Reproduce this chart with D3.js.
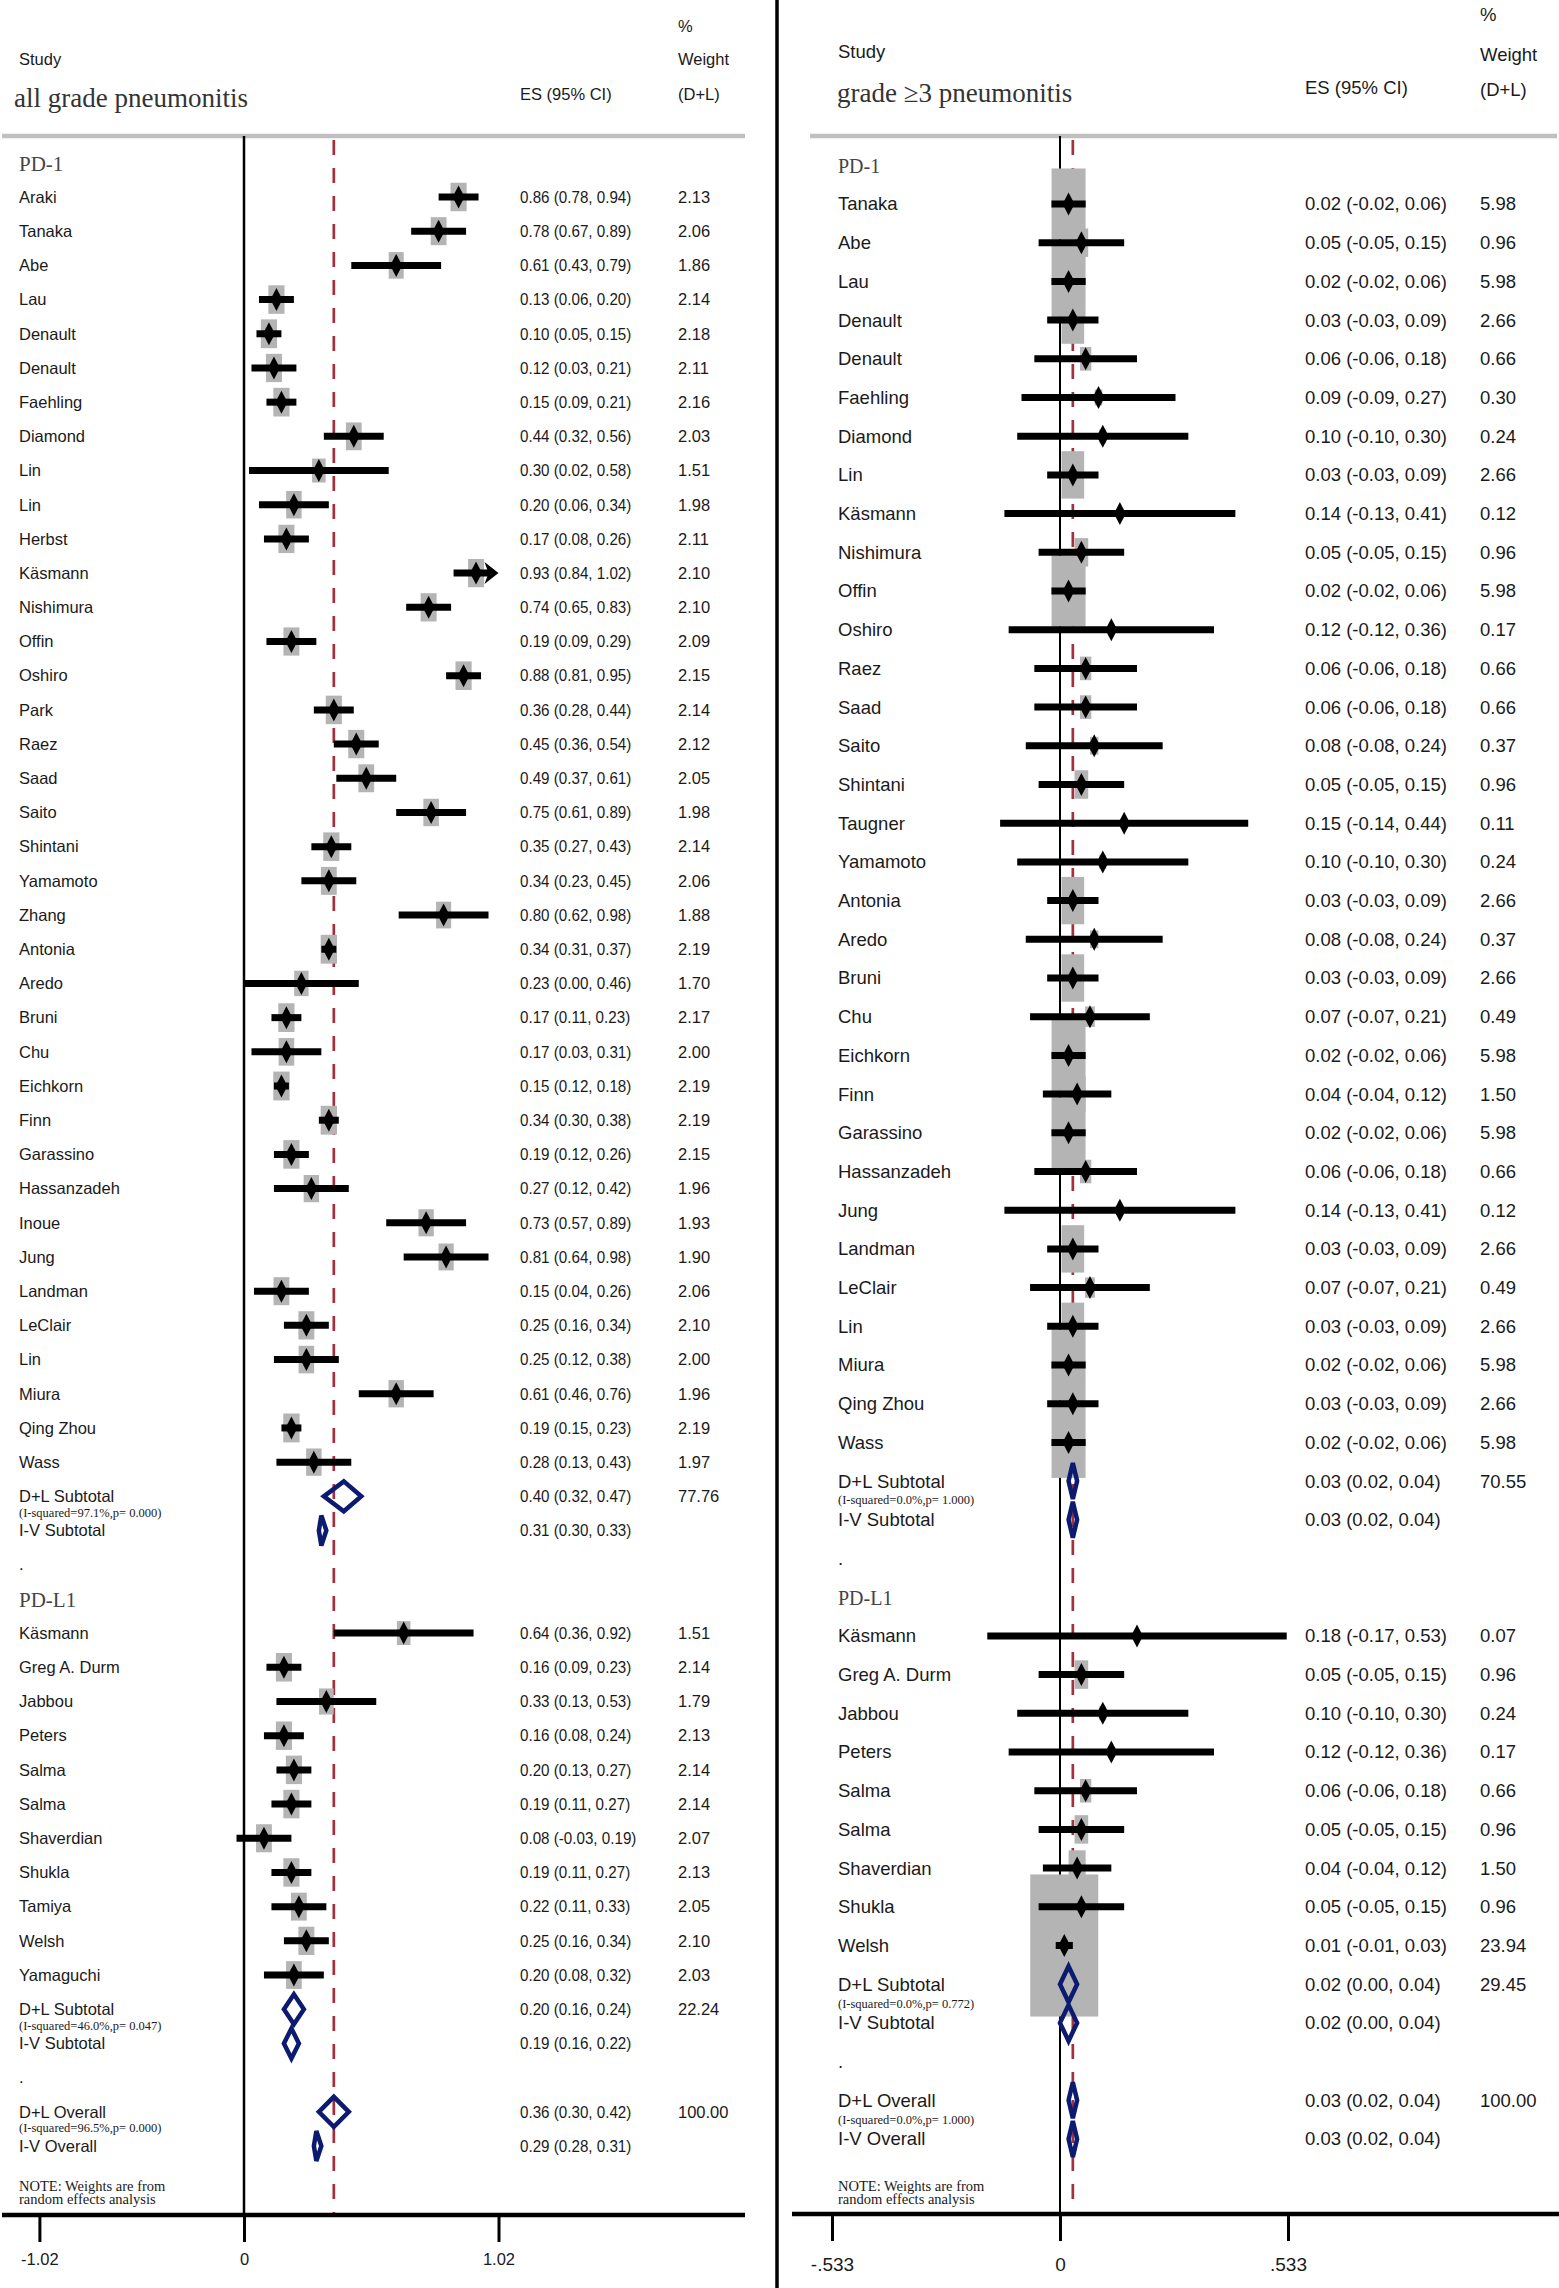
<!DOCTYPE html>
<html>
<head>
<meta charset="utf-8">
<script src="https://cdn.jsdelivr.net/npm/d3@7"></script>
<style>
  body { margin: 0; background: #fff; }
  text { font-family: 'Liberation Sans', Arial, sans-serif; fill: #1a1a1a; }
  .serif { font-family: 'Liberation Serif', 'Times New Roman', serif; }
</style>
</head>
<body>
<div id="app"></div>
<script>
// ---- all grade pneumonitis : PD-1
const allPD1Study = ['Araki','Tanaka','Abe','Lau','Denault','Denault','Faehling','Diamond','Lin','Lin','Herbst','Käsmann','Nishimura','Offin','Oshiro','Park','Raez','Saad','Saito','Shintani','Yamamoto','Zhang','Antonia','Aredo','Bruni','Chu','Eichkorn','Finn','Garassino','Hassanzadeh','Inoue','Jung','Landman','LeClair','Lin','Miura','Qing Zhou','Wass']
const allPD1Es = [0.86,0.78,0.61,0.13,0.10,0.12,0.15,0.44,0.30,0.20,0.17,0.93,0.74,0.19,0.88,0.36,0.45,0.49,0.75,0.35,0.34,0.80,0.34,0.23,0.17,0.17,0.15,0.34,0.19,0.27,0.73,0.81,0.15,0.25,0.25,0.61,0.19,0.28]
const allPD1Lo = [0.78,0.67,0.43,0.06,0.05,0.03,0.09,0.32,0.02,0.06,0.08,0.84,0.65,0.09,0.81,0.28,0.36,0.37,0.61,0.27,0.23,0.62,0.31,0.00,0.11,0.03,0.12,0.30,0.12,0.12,0.57,0.64,0.04,0.16,0.12,0.46,0.15,0.13]
const allPD1Hi = [0.94,0.89,0.79,0.20,0.15,0.21,0.21,0.56,0.58,0.34,0.26,1.02,0.83,0.29,0.95,0.44,0.54,0.61,0.89,0.43,0.45,0.98,0.37,0.46,0.23,0.31,0.18,0.38,0.26,0.42,0.89,0.98,0.26,0.34,0.38,0.76,0.23,0.43]
const allPD1Wt = [2.13,2.06,1.86,2.14,2.18,2.11,2.16,2.03,1.51,1.98,2.11,2.10,2.10,2.09,2.15,2.14,2.12,2.05,1.98,2.14,2.06,1.88,2.19,1.70,2.17,2.00,2.19,2.19,2.15,1.96,1.93,1.90,2.06,2.10,2.00,1.96,2.19,1.97]
const allPD1DL = [0.40, 0.32, 0.47, 77.76]
const allPD1IV = [0.31, 0.30, 0.33]
const allPD1Het = '(I-squared=97.1%,p= 0.000)'

// ---- all grade pneumonitis : PD-L1
const allPDL1Study = ['Käsmann','Greg A. Durm','Jabbou','Peters','Salma','Salma','Shaverdian','Shukla','Tamiya','Welsh','Yamaguchi']
const allPDL1Es = [0.64,0.16,0.33,0.16,0.20,0.19,0.08,0.19,0.22,0.25,0.20]
const allPDL1Lo = [0.36,0.09,0.13,0.08,0.13,0.11,-0.03,0.11,0.11,0.16,0.08]
const allPDL1Hi = [0.92,0.23,0.53,0.24,0.27,0.27,0.19,0.27,0.33,0.34,0.32]
const allPDL1Wt = [1.51,2.14,1.79,2.13,2.14,2.14,2.07,2.13,2.05,2.10,2.03]
const allPDL1DL = [0.20, 0.16, 0.24, 22.24]
const allPDL1IV = [0.19, 0.16, 0.22]
const allPDL1Het = '(I-squared=46.0%,p= 0.047)'

const allOverallDL = [0.36, 0.30, 0.42, 100.00]
const allOverallIV = [0.29, 0.28, 0.31]
const allOverallHet = '(I-squared=96.5%,p= 0.000)'
const allTickPos = [-0.82, 0, 1.02]
const allTickLabels = ['-1.02', '0', '1.02']

// ---- grade >=3 pneumonitis : PD-1
const g3PD1Study = ['Tanaka','Abe','Lau','Denault','Denault','Faehling','Diamond','Lin','Käsmann','Nishimura','Offin','Oshiro','Raez','Saad','Saito','Shintani','Taugner','Yamamoto','Antonia','Aredo','Bruni','Chu','Eichkorn','Finn','Garassino','Hassanzadeh','Jung','Landman','LeClair','Lin','Miura','Qing Zhou','Wass']
const g3PD1Es = [0.02,0.05,0.02,0.03,0.06,0.09,0.10,0.03,0.14,0.05,0.02,0.12,0.06,0.06,0.08,0.05,0.15,0.10,0.03,0.08,0.03,0.07,0.02,0.04,0.02,0.06,0.14,0.03,0.07,0.03,0.02,0.03,0.02]
const g3PD1Lo = [-0.02,-0.05,-0.02,-0.03,-0.06,-0.09,-0.10,-0.03,-0.13,-0.05,-0.02,-0.12,-0.06,-0.06,-0.08,-0.05,-0.14,-0.10,-0.03,-0.08,-0.03,-0.07,-0.02,-0.04,-0.02,-0.06,-0.13,-0.03,-0.07,-0.03,-0.02,-0.03,-0.02]
const g3PD1Hi = [0.06,0.15,0.06,0.09,0.18,0.27,0.30,0.09,0.41,0.15,0.06,0.36,0.18,0.18,0.24,0.15,0.44,0.30,0.09,0.24,0.09,0.21,0.06,0.12,0.06,0.18,0.41,0.09,0.21,0.09,0.06,0.09,0.06]
const g3PD1Wt = [5.98,0.96,5.98,2.66,0.66,0.30,0.24,2.66,0.12,0.96,5.98,0.17,0.66,0.66,0.37,0.96,0.11,0.24,2.66,0.37,2.66,0.49,5.98,1.50,5.98,0.66,0.12,2.66,0.49,2.66,5.98,2.66,5.98]
const g3PD1DL = [0.03, 0.02, 0.04, 70.55]
const g3PD1IV = [0.03, 0.02, 0.04]
const g3PD1Het = '(I-squared=0.0%,p= 1.000)'

// ---- grade >=3 pneumonitis : PD-L1
const g3PDL1Study = ['Käsmann','Greg A. Durm','Jabbou','Peters','Salma','Salma','Shaverdian','Shukla','Welsh']
const g3PDL1Es = [0.18,0.05,0.10,0.12,0.06,0.05,0.04,0.05,0.01]
const g3PDL1Lo = [-0.17,-0.05,-0.10,-0.12,-0.06,-0.05,-0.04,-0.05,-0.01]
const g3PDL1Hi = [0.53,0.15,0.30,0.36,0.18,0.15,0.12,0.15,0.03]
const g3PDL1Wt = [0.07,0.96,0.24,0.17,0.66,0.96,1.50,0.96,23.94]
const g3PDL1DL = [0.02, 0.00, 0.04, 29.45]
const g3PDL1IV = [0.02, 0.00, 0.04]
const g3PDL1Het = '(I-squared=0.0%,p= 0.772)'

const g3OverallDL = [0.03, 0.02, 0.04, 100.00]
const g3OverallIV = [0.03, 0.02, 0.04]
const g3OverallHet = '(I-squared=0.0%,p= 1.000)'
const g3TickPos = [-0.533, 0, 0.533]
const g3TickLabels = ['-.533', '0', '.533']

const W = 1559, H = 2288
const svg = d3.select('#app').append('svg')
  .attr('width', W).attr('height', H)
  .style('display', 'block').style('background', '#fff')

const fmt = v => v.toFixed(2)

// turns the arrays into a list of rows, one per line of the plot
function buildRows(groups, overall) {
  const rows = []
  groups.forEach(g => {
    rows.push({ type: 'group', label: g.name })
    g.study.forEach((s, i) => rows.push({ type: 'study', label: s, es: g.es[i], lo: g.lo[i], hi: g.hi[i], wt: g.wt[i] }))
    rows.push({ type: 'dl', label: 'D+L Subtotal', es: g.dl[0], lo: g.dl[1], hi: g.dl[2], wt: g.dl[3], het: g.het })
    rows.push({ type: 'iv', label: 'I-V Subtotal', es: g.iv[0], lo: g.iv[1], hi: g.iv[2] })
    rows.push({ type: 'dot', label: '.' })
  })
  rows.push({ type: 'dl', label: 'D+L Overall', es: overall.dl[0], lo: overall.dl[1], hi: overall.dl[2], wt: overall.dl[3], het: overall.het })
  rows.push({ type: 'iv', label: 'I-V Overall', es: overall.iv[0], lo: overall.iv[1], hi: overall.iv[2] })
  rows.forEach((r, i) => r.idx = i)
  return rows
}

function drawPanel(p) {
  const g = svg.append('g')
  const rows = p.rows
  const x = p.x, y = p.y
  const studies = rows.filter(r => r.type === 'study')
  const sums = rows.filter(r => r.type === 'dl' || r.type === 'iv')
  const box = d3.scaleSqrt().domain([0, d3.max(studies, d => d.wt)]).range([0, p.boxMax])

  // header
  g.append('line').attr('x1', p.hx1).attr('x2', p.hx2).attr('y1', 136).attr('y2', 136)
    .attr('stroke', '#c0c0c0').attr('stroke-width', 4.5)
  g.append('text').attr('x', p.labelX).attr('y', p.studyY).attr('dy', '0.35em').attr('font-size', p.fs).text('Study')
  g.append('text').attr('class', 'serif').attr('x', p.titleX).attr('y', p.titleY).attr('font-size', 27)
    .style('fill', '#333').text(p.title)
  g.append('text').attr('x', p.esX).attr('y', p.esHeadY).attr('dy', '0.35em').attr('font-size', p.fs).text('ES (95% CI)')
  g.append('text').attr('x', p.wtX).attr('y', p.pctY).attr('dy', '0.35em').attr('font-size', p.fs).text('%')
  g.append('text').attr('x', p.wtX).attr('y', p.weightY).attr('dy', '0.35em').attr('font-size', p.fs).text('Weight')
  g.append('text').attr('x', p.wtX).attr('y', p.dlY).attr('dy', '0.35em').attr('font-size', p.fs).text('(D+L)')

  // zero line and overall dashed line
  g.append('line').attr('x1', x(0)).attr('x2', x(0)).attr('y1', 136).attr('y2', p.axisY)
    .attr('stroke', '#000').attr('stroke-width', p.zeroW)
  const overallEs = rows[rows.length - 2].es
  g.append('line').attr('x1', x(overallEs)).attr('x2', x(overallEs)).attr('y1', 140).attr('y2', p.axisY)
    .attr('stroke', '#a3303e').attr('stroke-width', 2.7).attr('stroke-dasharray', '15,13')

  // weight boxes
  g.append('g').selectAll('rect').data(studies).join('rect')
    .attr('x', d => x(d.es) - box(d.wt) / 2)
    .attr('y', d => y(d.idx) - box(d.wt) * p.boxRatio / 2)
    .attr('width', d => box(d.wt))
    .attr('height', d => box(d.wt) * p.boxRatio)
    .attr('fill', '#b4b4b4')

  // confidence intervals
  g.append('g').selectAll('line').data(studies).join('line')
    .attr('x1', d => x(d.lo))
    .attr('x2', d => d.hi >= p.xmax ? x(p.xmax) - 8 : x(d.hi))
    .attr('y1', d => y(d.idx)).attr('y2', d => y(d.idx))
    .attr('stroke', '#000').attr('stroke-width', 7)
  g.append('g').selectAll('path').data(studies.filter(d => d.hi >= p.xmax)).join('path')
    .attr('d', d => {
      const tx = x(p.xmax), ty = y(d.idx)
      return `M${tx},${ty} L${tx - 14},${ty - 11} L${tx - 10},${ty} L${tx - 14},${ty + 11} Z`
    })
    .attr('fill', '#000')

  // point estimates
  g.append('g').selectAll('path').data(studies).join('path')
    .attr('d', d => {
      const cx = x(d.es), cy = y(d.idx)
      return `M${cx},${cy - 11.5} L${cx + 6},${cy} L${cx},${cy + 11.5} L${cx - 6},${cy} Z`
    })
    .attr('fill', '#000')

  // pooled diamonds
  g.append('g').selectAll('path').data(sums).join('path')
    .attr('d', d => {
      const cy = y(d.idx), h = p.diamondH / 2
      return `M${x(d.lo)},${cy} L${x(d.es)},${cy - h} L${x(d.hi)},${cy} L${x(d.es)},${cy + h} Z`
    })
    .attr('fill', 'none').attr('stroke', '#0c1a70').attr('stroke-width', 4.5)

  // text columns
  const labelRows = rows.filter(r => r.type !== 'group')
  g.append('g').selectAll('text').data(labelRows).join('text')
    .attr('x', p.labelX).attr('y', d => y(d.idx)).attr('dy', '0.35em')
    .attr('font-size', p.fs).text(d => d.label)
  g.append('g').selectAll('text').data(rows.filter(r => r.type === 'group')).join('text')
    .attr('class', 'serif').attr('x', p.labelX).attr('y', d => y(d.idx)).attr('dy', '0.4em')
    .attr('font-size', p.groupFs).style('fill', '#444').text(d => d.label)
  g.append('g').selectAll('text').data(sums.filter(d => d.het)).join('text')
    .attr('class', 'serif').attr('x', p.labelX).attr('y', d => y(d.idx) + p.hetOff).attr('dy', '0.35em')
    .attr('font-size', 12.5).text(d => d.het)
  g.append('g').selectAll('text').data(rows.filter(r => r.es !== undefined)).join('text')
    .attr('transform', d => `translate(${p.esX},${y(d.idx)}) scale(${p.esScale},1)`)
    .attr('dy', '0.35em').attr('font-size', p.fs)
    .text(d => `${fmt(d.es)} (${fmt(d.lo)}, ${fmt(d.hi)})`)
  g.append('g').selectAll('text').data(rows.filter(r => r.wt !== undefined)).join('text')
    .attr('x', p.wtX).attr('y', d => y(d.idx)).attr('dy', '0.35em')
    .attr('font-size', p.fs).text(d => fmt(d.wt))

  // note
  g.append('text').attr('class', 'serif').attr('x', p.labelX).attr('y', 2191).attr('font-size', 14.5).text('NOTE: Weights are from')
  g.append('text').attr('class', 'serif').attr('x', p.labelX).attr('y', 2204).attr('font-size', 14.5).text('random effects analysis')

  // x axis
  g.append('line').attr('x1', p.hx1 - (p.axisExtra || 0)).attr('x2', p.ax2).attr('y1', p.axisY).attr('y2', p.axisY)
    .attr('stroke', '#000').attr('stroke-width', 4.5)
  const axis = d3.axisBottom(x).tickValues(p.tickPos).tickFormat((d, i) => p.tickLabels[i])
    .tickSize(27).tickPadding(p.tickPad).tickSizeOuter(0)
  const ag = g.append('g').attr('transform', `translate(0,${p.axisY})`).call(axis)
  ag.select('.domain').remove()
  ag.selectAll('.tick line').attr('stroke', '#000').attr('stroke-width', 3)
  ag.selectAll('.tick text').attr('font-size', p.tickFs)
    .attr('font-family', "'Liberation Sans', Arial, sans-serif").attr('fill', '#1a1a1a')
}

const leftRows = buildRows([
  { name: 'PD-1', study: allPD1Study, es: allPD1Es, lo: allPD1Lo, hi: allPD1Hi, wt: allPD1Wt, dl: allPD1DL, iv: allPD1IV, het: allPD1Het },
  { name: 'PD-L1', study: allPDL1Study, es: allPDL1Es, lo: allPDL1Lo, hi: allPDL1Hi, wt: allPDL1Wt, dl: allPDL1DL, iv: allPDL1IV, het: allPDL1Het }
], { dl: allOverallDL, iv: allOverallIV, het: allOverallHet })

const rightRows = buildRows([
  { name: 'PD-1', study: g3PD1Study, es: g3PD1Es, lo: g3PD1Lo, hi: g3PD1Hi, wt: g3PD1Wt, dl: g3PD1DL, iv: g3PD1IV, het: g3PD1Het },
  { name: 'PD-L1', study: g3PDL1Study, es: g3PDL1Es, lo: g3PDL1Lo, hi: g3PDL1Hi, wt: g3PDL1Wt, dl: g3PDL1DL, iv: g3PDL1IV, het: g3PDL1Het }
], { dl: g3OverallDL, iv: g3OverallIV, het: g3OverallHet })

drawPanel({
  rows: leftRows,
  x: d3.scaleLinear().domain([0, 1.02]).range([244, 498.5]),
  y: d3.scaleLinear().domain([0, leftRows.length - 1]).range([162.8, 2146]),
  title: 'all grade pneumonitis', titleX: 14, titleY: 107,
  labelX: 19, esX: 520, wtX: 678, fs: 16.5, esScale: 0.92, groupFs: 21,
  studyY: 59, esHeadY: 94, pctY: 26, weightY: 59, dlY: 94,
  hx1: 2, hx2: 745, ax2: 745, axisY: 2215,
  boxMax: 16.3, boxRatio: 1.77, diamondH: 30, xmax: 1.02, zeroW: 2.5, hetOff: 16,
  tickPos: allTickPos, tickLabels: allTickLabels, tickPad: 11, tickFs: 16.5
})

drawPanel({
  rows: rightRows,
  x: d3.scaleLinear().domain([0, 0.533]).range([1060, 1288]),
  y: d3.scaleLinear().domain([0, rightRows.length - 1]).range([165.3, 2139]),
  title: 'grade \u22653 pneumonitis', titleX: 837, titleY: 102,
  labelX: 838, esX: 1305, wtX: 1480, fs: 18.5, esScale: 1, groupFs: 20,
  studyY: 52, esHeadY: 88, pctY: 15, weightY: 55, dlY: 90,
  hx1: 810, hx2: 1557, ax2: 1559, axisExtra: 18, axisY: 2214,
  boxMax: 68, boxRatio: 2.09, diamondH: 36, xmax: 0.533, zeroW: 2, hetOff: 19,
  tickPos: g3TickPos, tickLabels: g3TickLabels, tickPad: 17, tickFs: 19
})

// divider between the two plots
svg.append('line').attr('x1', 777).attr('x2', 777).attr('y1', 0).attr('y2', H)
  .attr('stroke', '#000').attr('stroke-width', 3.5)
</script>
</body>
</html>
